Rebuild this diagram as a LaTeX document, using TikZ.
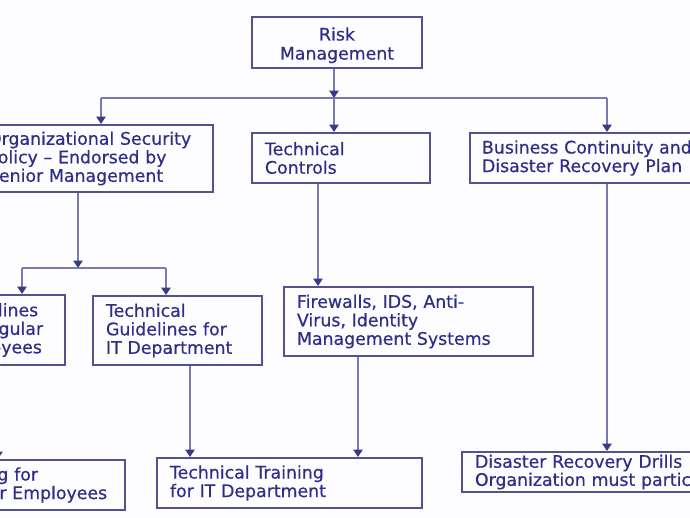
\documentclass[tikz,border=0pt]{standalone}
\usepackage{fontspec}
\setmainfont{DejaVu Sans}[FakeBold=0.5]
\usetikzlibrary{arrows.meta}
\definecolor{bgc}{HTML}{FDFCFF}
\definecolor{boxc}{HTML}{52528E}
\definecolor{txtc}{HTML}{2E2E88}
\definecolor{connc}{HTML}{7A7AB2}
\definecolor{tipc}{HTML}{3A3A86}
\tikzset{
  box/.style={draw=boxc, line width=1.5pt, text=txtc, inner ysep=0pt,
    font=\fontsize{13pt}{13.9pt}\selectfont, align=left},
  conn/.style={draw=connc, line width=1.1pt},
  arr/.style={-{Triangle[length=5.5pt,width=7pt,color=tipc]}}
}
\begin{document}
\begin{tikzpicture}[x=0.75pt,y=-0.75pt]
\fill[bgc] (0,0) rectangle (690,518);
\useasboundingbox (0,0) rectangle (690,518);
\clip (0,0) rectangle (690,518);

% boxes
\node[box, align=center, text width=109.5pt, inner xsep=9pt, minimum height=38.25pt,
  font=\fontsize{13pt}{14.3pt}\selectfont] (risk) at (337,42.5) {\rule{0pt}{14pt}Risk\\Management};
\node[box, text width=159pt, inner xsep=9.75pt, minimum height=50.25pt] (org) at (94,158.5) {Organizational Security\\Policy -- Endorsed by\\Senior Management};
\node[box, text width=114pt, inner xsep=9.75pt, minimum height=37.5pt] (tc) at (341,158) {Technical\\Controls};
\node[box, text width=187.5pt, inner xsep=9pt, minimum height=37.5pt] (bc) at (607,158) {Business Continuity and\\Disaster Recovery Plan};
\node[box, text width=79.5pt, inner xsep=9pt, minimum height=52.5pt] (gre) at (0,330) {Guidelines\\for Regular\\Employees};
\node[box, text width=107.25pt, inner xsep=9.75pt, minimum height=51.75pt] (tg) at (177.5,330.5) {Technical\\Guidelines for\\IT Department};
\node[box, text width=167.25pt, inner xsep=9.75pt, minimum height=51.75pt] (fw) at (408.5,321.5) {Firewalls, IDS, Anti-\\Virus, Identity\\Management Systems};
\node[box, text width=129.75pt, inner xsep=9pt, minimum height=37.5pt] (tre) at (26.5,485) {Training for\\Regular Employees};
\node[box, text width=179.25pt, inner xsep=9.75pt, minimum height=37.5pt] (tt) at (289.5,483) {Technical Training\\for IT Department};
\node[box, text width=205.5pt, inner xsep=9.75pt, minimum height=30pt, font=\fontsize{13pt}{11.3pt}\selectfont] (dr) at (612,472) {Disaster Recovery Drills\\Organization must participate};

% junction coordinates
\coordinate (jr) at (334,98);
\coordinate (jl) at (101,98);
\coordinate (jb) at (607,98);
\coordinate (jo) at (78,268);
\coordinate (jo1) at (22,268);
\coordinate (jo2) at (166,268);
\coordinate (xa) at (-2,0);
\coordinate (xb) at (318,0);
\coordinate (xc) at (190,0);
\coordinate (xd) at (358,0);

% connectors
\draw[conn] (jl) -- (jb);
\draw[conn,arr] (risk.south -| jr) -- (jr);
\draw[conn,arr] (jr) -- (tc.north -| jr);
\draw[conn,arr] (jl) -- (org.north -| jl);
\draw[conn,arr] (jb) -- (bc.north -| jb);

\draw[conn,arr] (org.south -| jo) -- (jo);
\draw[conn] (jo1) -- (jo2);
\draw[conn,arr] (jo1) -- (gre.north -| jo1);
\draw[conn,arr] (jo2) -- (tg.north -| jo2);

\draw[conn,arr] (gre.south -| xa) -- (tre.north -| xa);
\draw[conn,arr] (tc.south -| xb) -- (fw.north -| xb);
\draw[conn,arr] (tg.south -| xc) -- (tt.north -| xc);
\draw[conn,arr] (fw.south -| xd) -- (tt.north -| xd);
\draw[conn,arr] (bc.south -| jb) -- (dr.north -| jb);
\end{tikzpicture}
\end{document}
